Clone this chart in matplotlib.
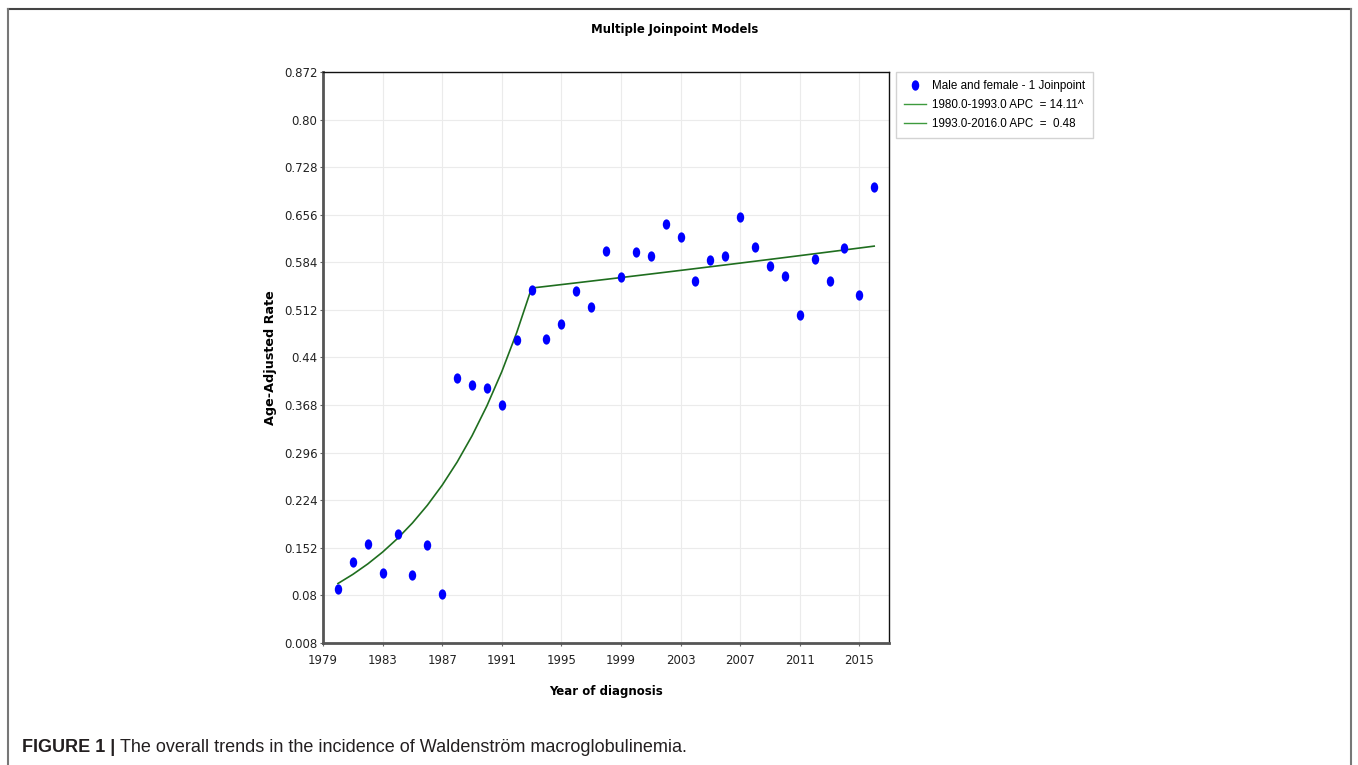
import matplotlib
matplotlib.use("Agg")
import matplotlib.pyplot as plt
import numpy as np
from matplotlib.lines import Line2D
from matplotlib.path import Path
from matplotlib.transforms import Affine2D

# Observed age-adjusted incidence by year of diagnosis
years = np.arange(1980, 2017)
rates = [0.090, 0.131, 0.158, 0.114, 0.173, 0.111, 0.156, 0.082,
         0.409, 0.398, 0.394, 0.368, 0.466, 0.542, 0.468, 0.491,
         0.541, 0.516, 0.601, 0.562, 0.599, 0.594, 0.642, 0.623,
         0.556, 0.587, 0.594, 0.652, 0.607, 0.578, 0.564, 0.505,
         0.589, 0.555, 0.606, 0.535, 0.698]

# Joinpoint model: two segments with annual percent change
joinpoint = 1993
start_value = 0.098
apc = [14.11, 0.48]
legend_labels = ["Male and female - 1 Joinpoint",
                 "1980.0-1993.0 APC  = 14.11^",
                 "1993.0-2016.0 APC  =  0.48"]

yticks = np.arange(0.008, 0.873, 0.072)
ytick_labels = ["0.008", "0.08", "0.152", "0.224", "0.296", "0.368", "0.44",
                "0.512", "0.584", "0.656", "0.728", "0.80", "0.872"]
xticks = np.arange(1979, 2016, 4)

# fitted curve from the APC values
seg1_years = np.arange(1980, joinpoint + 1)
seg1 = start_value * (1 + apc[0] / 100) ** (seg1_years - 1980)
seg2_years = np.arange(joinpoint, 2017)
seg2 = seg1[-1] * (1 + apc[1] / 100) ** (seg2_years - joinpoint)

tick_font = "DejaVu Sans"
legend_font = "Liberation Sans"

fig = plt.figure(figsize=(13.58, 7.65), dpi=100)
ax = fig.add_axes([0.2379, 0.1595, 0.4168, 0.7464])

ax.grid(True, color="#ebebeb", lw=0.8)
ax.set_axisbelow(True)

# slightly tall ellipse marker
ellipse = Path.unit_circle().transformed(Affine2D().scale(0.72, 1.0))
ax.scatter(years, rates, marker=ellipse, s=55, color="#0000ff", zorder=3,
           linewidths=0)
ax.plot(seg1_years, seg1, color="#1f6e1f", lw=1.2, zorder=2)
ax.plot(seg2_years, seg2, color="#1f6e1f", lw=1.2, zorder=2)

ax.set_xlim(1979, 2017)
ax.set_ylim(0.008, 0.872)
ax.set_xticks(xticks)
ax.set_xticklabels([str(x) for x in xticks], family=tick_font, fontsize=8.5)
ax.set_yticks(yticks)
ax.set_yticklabels(ytick_labels, family=tick_font, fontsize=8.5)
ax.tick_params(axis="both", length=2, color="#666666", labelcolor="#222222")
ax.tick_params(axis="y", pad=2)
ax.tick_params(axis="x", pad=6)

for side in ("left", "bottom"):
    ax.spines[side].set_color("#555555")
    ax.spines[side].set_linewidth(2)
for side in ("top", "right"):
    ax.spines[side].set_color("#111111")
    ax.spines[side].set_linewidth(1)

ax.set_xlabel("Year of diagnosis", family=tick_font, fontsize=8.5,
              fontweight="bold", va="center")
ax.xaxis.set_label_coords(0.5, -0.0858)
ax.set_ylabel("Age-Adjusted Rate", family=tick_font, fontsize=9.2,
              fontweight="bold", va="center")
ax.yaxis.set_label_coords(-0.0936, 0.5)
fig.text(0.497, 0.962, "Multiple Joinpoint Models", family=tick_font,
         fontsize=8.4, fontweight="bold", ha="center", va="center")

handles = [
    Line2D([], [], ls="none", marker=ellipse, markersize=7.5,
           color="#0000ff", markeredgewidth=0),
    Line2D([], [], color="#3d9a3d", lw=1),
    Line2D([], [], color="#3d9a3d", lw=1),
]
leg = ax.legend(handles, legend_labels, loc="upper left",
                bbox_to_anchor=(896 / 1358, 1 - 72 / 765),
                bbox_transform=fig.transFigure, frameon=True, fancybox=False,
                prop={"family": legend_font, "size": 8.4},
                handlelength=1.9, handletextpad=0.55, labelspacing=0.62,
                borderpad=0.65, borderaxespad=0)
leg.get_frame().set_edgecolor("#c8c8c8")
leg.get_frame().set_linewidth(1)

# outer frame, open at the bottom
x0, x1, ytop = 7.5 / 1358, 1350.5 / 1358, 1 - 8.5 / 765
fig.add_artist(Line2D([x0, x1], [ytop, ytop], color="#444444", lw=1.5,
                      transform=fig.transFigure))
fig.add_artist(Line2D([x0, x0], [ytop, 0], color="#777777", lw=1.5,
                      transform=fig.transFigure))
fig.add_artist(Line2D([x1, x1], [ytop, 0], color="#777777", lw=1.5,
                      transform=fig.transFigure))

# caption: bold figure number followed by plain text
cap_y = 1 - 748 / 765
bold = fig.text(22 / 1358, cap_y, "FIGURE 1 |", family="Liberation Sans",
                fontsize=13, fontweight="bold", color="#231f20", va="center")
fig.canvas.draw()
bb = bold.get_window_extent()
fig.text((bb.x1 + 5) / 1358, cap_y,
         "The overall trends in the incidence of Waldenström macroglobulinemia.",
         family="Liberation Sans", fontsize=13, color="#231f20", va="center")

fig.savefig("out.png", dpi=100)
